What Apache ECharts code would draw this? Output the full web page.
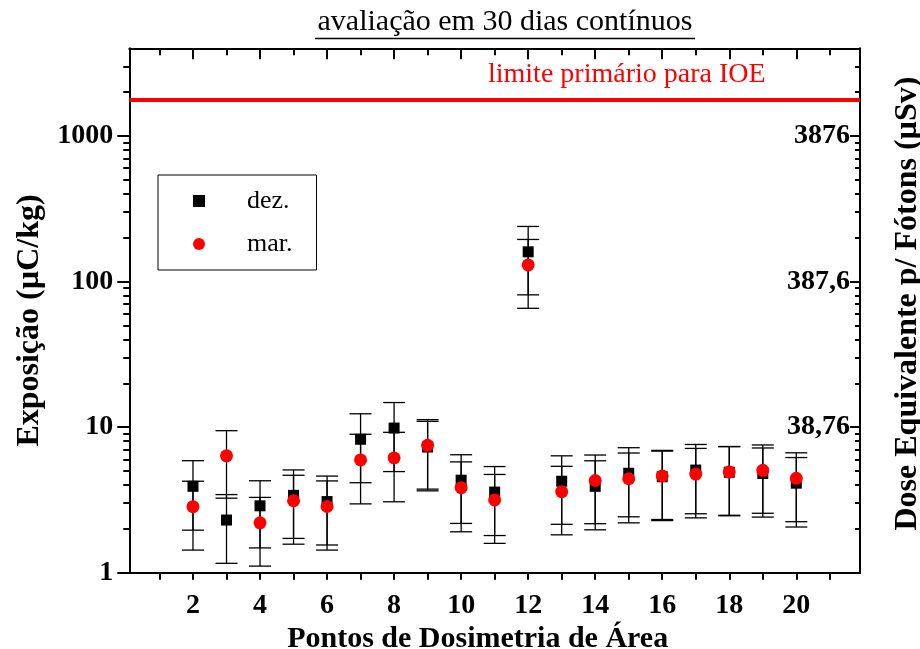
<!DOCTYPE html>
<html>
<head>
<meta charset="utf-8">
<script src="https://cdn.jsdelivr.net/npm/echarts@6/dist/echarts.min.js"></script>
<style>
html,body{margin:0;padding:0;background:#fff;}
#chart{width:920px;height:649px;}
</style>
</head>
<body>
<div id="chart"></div>
<script>
// ---- data ----
const xPoints   = [2,3,4,5,6,7,8,9,10,11,12,13,14,15,16,17,18,19,20];
const dezValues = [3.92,2.30,2.88,3.40,3.08,8.25,9.85,7.30,4.32,3.58,160,4.25,3.92,4.82,4.56,5.07,4.90,4.80,4.12];
const dezErrors = [1.96,1.14,1.40,1.68,1.53,4.10,4.90,3.65,2.14,1.78,79,2.10,1.95,2.40,2.28,2.53,2.44,2.39,2.06];
const marValues = [2.84,6.35,2.20,3.12,2.85,5.95,6.14,7.50,3.84,3.16,130,3.60,4.30,4.42,4.62,4.76,4.92,5.05,4.45];
const marErrors = [1.41,3.10,1.09,1.55,1.42,2.98,3.07,3.75,1.93,1.57,64.5,1.78,2.13,2.22,2.30,2.38,2.44,2.49,2.21];
const limitValue = 1780;
const xMajorTicks = [2,4,6,8,10,12,14,16,18,20];
const xMinorTicks = [1,3,5,7,9,11,13,15,17,19,21];
const xAllTicks = [1,2,3,4,5,6,7,8,9,10,11,12,13,14,15,16,17,18,19,20,21];
const yMajorTicks = [1,10,100,1000];
const yMinorTicks = [2,3,4,5,6,7,8,9,20,30,40,50,60,70,80,90,200,300,400,500,600,700,800,900,2000,3000];
const yRightTicks = [10,100,1000];
const yRightLabels = {10:'38,76',100:'387,6',1000:'3876'};
const seriesNames = ['dez.','mar.'];
const titleText = 'avaliação em 30 dias contínuos';
const limitText = 'limite primário para IOE';

const FONT = 'Liberation Serif';
const chart = echarts.init(document.getElementById('chart'));

function errData(vals, errs){ return xPoints.map((x,i)=>[x, vals[i], errs[i]]); }
function ptData(vals){ return xPoints.map((x,i)=>[x, vals[i]]); }

function renderErr(params, api){
  const x = api.value(0), v = api.value(1), e = api.value(2);
  const top = api.coord([x, v + e]);
  const bot = api.coord([x, v - e]);
  const hw = 11;
  const st = {stroke:'#000', lineWidth:1.3};
  return {type:'group', children:[
    {type:'line', shape:{x1:top[0], y1:top[1], x2:bot[0], y2:bot[1]}, style:st},
    {type:'line', shape:{x1:top[0]-hw, y1:top[1], x2:top[0]+hw, y2:top[1]}, style:st},
    {type:'line', shape:{x1:bot[0]-hw, y1:bot[1], x2:bot[0]+hw, y2:bot[1]}, style:st}
  ]};
}

const baseX = {type:'value', min:0.1, max:21.9, splitLine:{show:false}};
const baseY = {type:'log', logBase:10, min:1, max:4000, splitLine:{show:false}};

const option = {
  animation:false,
  graphic:[
    {type:'text', x:505, y:22, style:{text:titleText, font:'30px "Liberation Serif"', fill:'#000', align:'center', verticalAlign:'middle'}},
    {type:'line', shape:{x1:315, y1:38.5, x2:695, y2:38.5}, style:{stroke:'#000', lineWidth:1.3}},
    {type:'text', x:488, y:75, style:{text:limitText, font:'28px "Liberation Serif"', fill:'#ff0000', align:'left', verticalAlign:'middle'}}
  ],
  legend:{
    data:seriesNames, orient:'vertical', left:158, top:175,
    borderColor:'#000', borderWidth:1, borderRadius:0,
    padding:[11,24,11,35], itemGap:13, itemWidth:12, itemHeight:12,
    textStyle:{fontFamily:FONT, fontSize:26, color:'#000', lineHeight:30, padding:[0,0,0,37]}
  },
  grid:{left:129.3, right:60, top:48.3, bottom:76.3, containLabel:false, outerBoundsMode:'none'},
  xAxis:[
    Object.assign({}, baseX, {position:'bottom',
      name:'Pontos de Dosimetria de Área', nameLocation:'middle', nameGap:44,
      nameTextStyle:{fontFamily:FONT, fontSize:30, fontWeight:'bold', color:'#000', padding:[0,34,0,0]},
      axisLine:{lineStyle:{color:'#000', width:2}},
      axisTick:{length:7, lineStyle:{color:'#000', width:2}, customValues:xAllTicks},
      axisLabel:{customValues:xMajorTicks, margin:19, fontFamily:FONT, fontSize:28, fontWeight:'bold', color:'#000'}}),
    Object.assign({}, baseX, {position:'top',
      axisLine:{lineStyle:{color:'#000', width:2}},
      axisTick:{inside:true, length:11, lineStyle:{color:'#000', width:2}, customValues:xMajorTicks},
      axisLabel:{show:false}}),
    Object.assign({}, baseX, {position:'top',
      axisLine:{show:false},
      axisTick:{inside:true, length:7, lineStyle:{color:'#000', width:2}, customValues:xMinorTicks},
      axisLabel:{show:false}})
  ],
  yAxis:[
    Object.assign({}, baseY, {position:'left',
      name:'Exposição (µC/kg)', nameLocation:'middle', nameGap:84, nameRotate:90,
      nameTextStyle:{fontFamily:FONT, fontSize:32, fontWeight:'bold', color:'#000', padding:[0,20,0,0]},
      axisLine:{lineStyle:{color:'#000', width:2}},
      axisTick:{length:12, lineStyle:{color:'#000', width:2}, customValues:yMajorTicks},
      axisLabel:{customValues:yMajorTicks, margin:16, formatter:v=>String(Math.round(v)), fontFamily:FONT, fontSize:28, fontWeight:'bold', color:'#000'}}),
    Object.assign({}, baseY, {position:'left',
      axisLine:{show:false},
      axisTick:{length:6, lineStyle:{color:'#000', width:2}, customValues:yMinorTicks},
      axisLabel:{show:false}}),
    Object.assign({}, baseY, {position:'right',
      name:'Dose Equivalente p/ Fótons (µSv)', nameLocation:'middle', nameGap:32, nameRotate:90,
      nameTextStyle:{fontFamily:FONT, fontSize:32, fontWeight:'bold', color:'#000', padding:[0,0,0,14]},
      axisLine:{show:true, lineStyle:{color:'#000', width:2}},
      axisTick:{inside:true, length:10, lineStyle:{color:'#000', width:2}, customValues:yRightTicks},
      axisLabel:{inside:true, customValues:yRightTicks, margin:10, formatter:v=>yRightLabels[Math.round(v)]||'',
        fontFamily:FONT, fontSize:28, fontWeight:'bold', color:'#000'}}),
    Object.assign({}, baseY, {position:'right',
      axisLine:{show:false},
      axisTick:{inside:true, length:5, lineStyle:{color:'#000', width:2}, customValues:yMinorTicks},
      axisLabel:{show:false}})
  ],
  series:[
    {name:'dezErr', type:'custom', xAxisIndex:0, yAxisIndex:0, renderItem:renderErr, data:errData(dezValues,dezErrors), z:1, silent:true,
     markLine:{silent:true, symbol:'none', label:{show:false}, lineStyle:{color:'#ff0000', width:4, type:'solid'}, data:[{yAxis:limitValue}]}},
    {name:'marErr', type:'custom', xAxisIndex:0, yAxisIndex:0, renderItem:renderErr, data:errData(marValues,marErrors), z:1, silent:true},
    {name:seriesNames[0], type:'scatter', xAxisIndex:0, yAxisIndex:0, symbol:'rect', symbolSize:11, itemStyle:{color:'#000', opacity:1}, data:ptData(dezValues), z:3},
    {name:seriesNames[1], type:'scatter', xAxisIndex:0, yAxisIndex:0, symbol:'circle', symbolSize:13, itemStyle:{color:'#ff0000', opacity:1}, data:ptData(marValues), z:4}
  ]
};
chart.setOption(option);
</script>
</body>
</html>
